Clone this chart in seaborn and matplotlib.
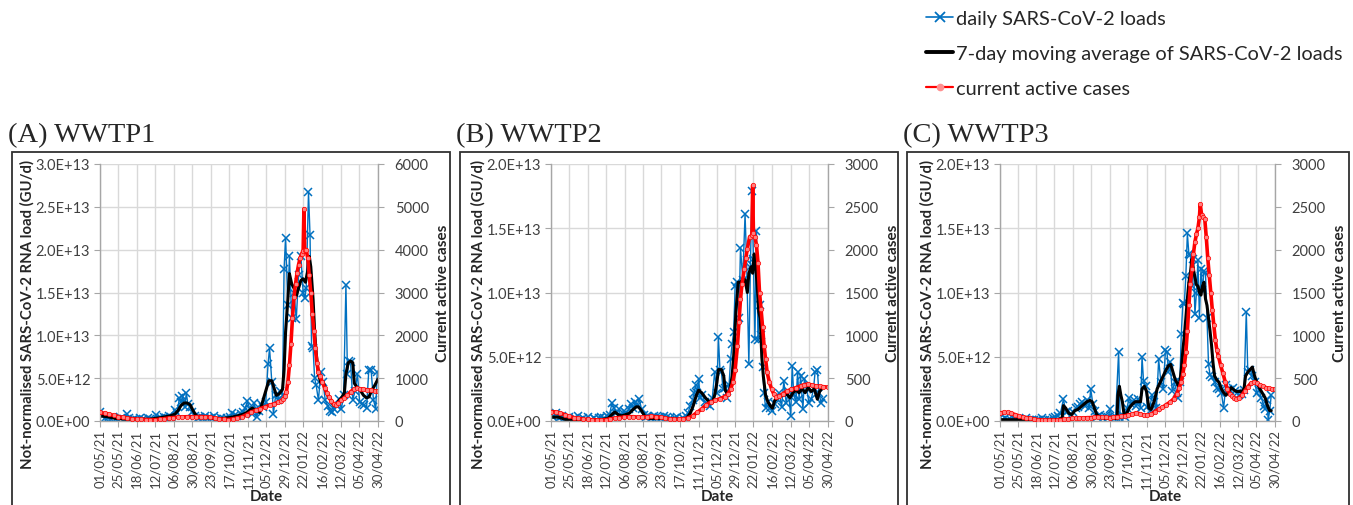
import matplotlib
matplotlib.use('Agg')
import matplotlib.pyplot as plt
from matplotlib.lines import Line2D
from matplotlib.patches import Rectangle
from matplotlib.ticker import FuncFormatter, MultipleLocator
import seaborn as sns
import pandas as pd

# day 0 = 01/05/21
START = pd.Timestamp('2021-05-01')
END = pd.Timestamp('2022-04-30')

tick_labels = ['01/05/21', '25/05/21', '18/06/21', '12/07/21', '06/08/21', '30/08/21',
               '23/09/21', '17/10/21', '11/11/21', '05/12/21', '29/12/21', '22/01/22',
               '16/02/22', '12/03/22', '05/04/22', '30/04/22']

series_labels = ['daily SARS-CoV-2 loads',
                 '7-day moving average of SARS-CoV-2 loads',
                 'current active cases']

# ---- WWTP1: (day, load in 1E12 GU/d) and (day, active cases)
a_daily = [(0, 1.0), (3, 0.6), (7, 0.4), (10, 0.3), (14, 0.2), (17, 0.5), (21, 0.2), (24, 0.1),
           (28, 0.3), (31, 0.2), (35, 0.8), (38, 0.3), (42, 0.1), (45, 0.2), (49, 0.1), (52, 0.4),
           (56, 0.2), (59, 0.1), (63, 0.3), (66, 0.2), (70, 0.1), (73, 0.7), (77, 0.3), (80, 0.4),
           (84, 0.5), (87, 0.3), (91, 0.6), (94, 0.4), (98, 1.3), (101, 0.9), (104, 2.7), (106, 2.2),
           (108, 2.9), (111, 1.6), (113, 3.3), (115, 2.0), (118, 1.6), (121, 1.0), (124, 0.6),
           (128, 0.4), (131, 0.5), (135, 0.3), (138, 0.6), (142, 0.4), (145, 0.3), (149, 0.6),
           (152, 0.2), (156, 0.1), (159, 0.3), (163, 0.2), (166, 0.4), (170, 0.5), (173, 0.9),
           (177, 0.7), (180, 0.6), (184, 0.8), (187, 1.0), (190, 1.5), (193, 2.3), (196, 1.4),
           (199, 0.8), (202, 2.1), (205, 0.5), (208, 1.2), (211, 2.0), (214, 1.6), (217, 2.2),
           (220, 6.6), (222, 8.5), (225, 4.5), (227, 0.8), (230, 3.0), (233, 2.5), (236, 3.5),
           (239, 3.0), (241, 17.7), (243, 21.4), (246, 13.5), (248, 19.3), (251, 12.0), (254, 15.0),
           (257, 11.9), (260, 17.0), (263, 19.3), (266, 15.0), (268, 14.3), (270, 15.5), (273, 26.7),
           (275, 21.7), (277, 8.8), (279, 8.5), (281, 5.0), (283, 4.2), (286, 2.4), (289, 5.7),
           (292, 4.5), (295, 2.4), (298, 1.8), (301, 1.2), (304, 1.0), (307, 1.4), (310, 1.8),
           (313, 2.6), (316, 1.4), (319, 3.0), (322, 15.9), (324, 5.5), (326, 7.0), (328, 6.9),
           (331, 2.5), (334, 3.5), (337, 5.5), (340, 2.2), (343, 2.0), (346, 1.9), (349, 1.5),
           (352, 6.0), (355, 5.9), (358, 2.5), (361, 1.4), (363, 5.7)]
a_avg = [(0, 0.6), (10, 0.5), (20, 0.3), (35, 0.2), (50, 0.2), (65, 0.2), (80, 0.4), (92, 0.6),
         (98, 0.8), (102, 1.2), (106, 1.8), (110, 2.1), (114, 2.1), (118, 1.9), (122, 1.2),
         (126, 0.6), (132, 0.4), (140, 0.4), (150, 0.3), (160, 0.3), (170, 0.4), (180, 0.6),
         (188, 0.8), (194, 1.1), (199, 1.5), (204, 1.3), (209, 1.0), (214, 2.6), (218, 3.8),
         (221, 4.7), (225, 4.7), (228, 3.8), (231, 3.0), (235, 3.2), (239, 3.7), (241, 6.0),
         (243, 10.4), (246, 14.2), (248, 17.2), (251, 16.0), (254, 15.5), (257, 14.6), (260, 15.5),
         (263, 16.4), (266, 16.6), (269, 16.2), (272, 17.5), (274, 19.2), (276, 18.0), (279, 14.2),
         (281, 10.5), (283, 8.0), (286, 5.5), (289, 4.5), (292, 4.6), (295, 3.8), (298, 3.0),
         (302, 2.4), (306, 1.8), (309, 1.8), (313, 2.4), (317, 2.8), (320, 3.3), (322, 5.5),
         (325, 6.8), (328, 7.0), (331, 6.8), (333, 4.4), (336, 4.0), (340, 3.7), (345, 3.0),
         (349, 2.7), (352, 2.8), (356, 3.6), (360, 4.2), (364, 4.9)]
a_cases = [(0, 200), (6, 180), (12, 160), (18, 130), (24, 105), (30, 85), (36, 70), (42, 55),
           (48, 45), (54, 38), (60, 35), (66, 30), (72, 30), (78, 40), (84, 55), (90, 70), (96, 80),
           (102, 90), (108, 95), (114, 100), (120, 100), (126, 100), (132, 105), (138, 100),
           (144, 90), (150, 70), (156, 50), (162, 40), (168, 35), (174, 50), (180, 70), (186, 100),
           (192, 150), (198, 210), (204, 250), (210, 290), (216, 330), (222, 370), (228, 400),
           (233, 440), (237, 470), (240, 520), (242, 580), (244, 680), (246, 900), (248, 1300),
           (250, 1800), (252, 2400), (254, 2900), (256, 3200), (258, 3450), (260, 3650),
           (262, 3800), (264, 3900), (266, 3980), (267, 4950), (268, 4000), (270, 4000),
           (272, 3800), (274, 3400), (276, 3000), (278, 2500), (280, 2100), (282, 1700),
           (284, 1350), (286, 1150), (288, 1050), (291, 920), (294, 780), (297, 660), (300, 560),
           (303, 470), (306, 400), (309, 380), (312, 420), (316, 480), (320, 540), (324, 600),
           (328, 680), (332, 740), (336, 760), (340, 750), (345, 740), (350, 730), (355, 720),
           (360, 700), (364, 690)]

# ---- WWTP2
b_daily = [(0, 0.5), (3, 0.3), (7, 0.6), (10, 0.2), (14, 0.4), (17, 0.1), (21, 0.2), (24, 0.3),
           (28, 0.1), (31, 0.2), (35, 0.4), (38, 0.1), (42, 0.2), (45, 0.1), (49, 0.3), (52, 0.1),
           (56, 0.2), (59, 0.1), (63, 0.2), (66, 0.3), (70, 0.2), (73, 0.4), (77, 0.5), (80, 1.4),
           (83, 1.0), (86, 0.6), (89, 0.9), (92, 0.4), (96, 0.8), (99, 0.6), (102, 0.9), (105, 1.3),
           (108, 1.0), (111, 1.5), (113, 1.2), (116, 1.7), (119, 0.9), (122, 0.5), (125, 0.3),
           (128, 0.4), (132, 0.2), (135, 0.4), (138, 0.3), (142, 0.3), (145, 0.2), (149, 0.4),
           (152, 0.3), (156, 0.2), (159, 0.1), (163, 0.2), (166, 0.3), (170, 0.1), (173, 0.2),
           (177, 0.4), (180, 0.6), (183, 1.2), (186, 1.6), (188, 2.2), (190, 2.8), (192, 2.2),
           (194, 3.3), (196, 1.8), (199, 2.0), (202, 1.5), (205, 1.3), (209, 1.2), (212, 1.8),
           (215, 3.8), (218, 2.2), (220, 6.5), (222, 4.0), (224, 3.8), (226, 2.5), (228, 2.6),
           (231, 1.8), (234, 2.8), (236, 4.8), (238, 6.0), (240, 6.9), (242, 10.5), (244, 10.8),
           (247, 8.0), (249, 13.5), (252, 11.0), (255, 16.1), (257, 12.5), (260, 4.4), (262, 12.0),
           (264, 17.9), (266, 12.6), (268, 6.4), (270, 14.8), (272, 6.3), (274, 9.0), (276, 6.7),
           (278, 4.2), (280, 2.2), (282, 1.0), (285, 1.5), (288, 1.0), (291, 0.8), (294, 1.3),
           (297, 1.7), (300, 2.2), (303, 1.1), (306, 3.1), (309, 1.4), (312, 2.3), (315, 0.4),
           (317, 4.3), (319, 2.0), (322, 1.5), (324, 3.8), (326, 1.7), (328, 3.5), (331, 0.9),
           (333, 3.3), (336, 2.5), (339, 1.4), (342, 1.7), (345, 2.5), (347, 3.8), (350, 4.0),
           (352, 2.2), (355, 1.4), (357, 1.7)]
b_avg = [(0, 0.3), (10, 0.3), (20, 0.1), (35, 0.1), (50, 0.1), (65, 0.1), (75, 0.2), (80, 0.5),
         (84, 0.7), (88, 0.5), (93, 0.4), (98, 0.5), (103, 0.6), (108, 0.9), (112, 1.1), (115, 1.1),
         (119, 0.8), (123, 0.4), (128, 0.2), (140, 0.2), (155, 0.2), (170, 0.1), (178, 0.2),
         (183, 0.6), (187, 1.2), (191, 2.0), (194, 2.4), (198, 2.2), (203, 1.8), (208, 1.5),
         (212, 1.4), (215, 2.0), (218, 3.0), (220, 4.0), (224, 4.0), (227, 3.5), (229, 2.4),
         (232, 2.1), (235, 2.4), (238, 3.5), (240, 5.0), (243, 8.5), (246, 10.8), (249, 10.8),
         (252, 11.0), (255, 11.0), (258, 10.0), (260, 11.5), (263, 12.0), (265, 11.5), (267, 13.0),
         (269, 12.0), (271, 10.5), (273, 8.5), (275, 8.0), (277, 5.0), (279, 3.5), (282, 2.0),
         (285, 1.5), (288, 1.2), (291, 1.0), (294, 1.6), (298, 1.8), (302, 2.0), (306, 2.0),
         (310, 2.1), (314, 1.8), (318, 2.2), (322, 2.4), (326, 2.2), (330, 2.5), (334, 2.2),
         (338, 2.6), (342, 2.3), (346, 2.5), (350, 1.7), (353, 2.3), (357, 2.6)]
b_cases = [(0, 110), (6, 105), (12, 95), (18, 75), (24, 55), (30, 40), (36, 30), (42, 22), (48, 18),
           (54, 15), (60, 12), (66, 12), (72, 15), (78, 25), (84, 35), (90, 40), (96, 45), (102, 50),
           (108, 50), (114, 45), (120, 45), (126, 50), (132, 55), (138, 50), (144, 45), (150, 35),
           (156, 25), (162, 20), (168, 20), (174, 25), (180, 35), (186, 60), (192, 100), (198, 140),
           (204, 190), (210, 220), (216, 240), (222, 260), (228, 285), (232, 310), (236, 370),
           (239, 450), (242, 600), (245, 880), (247, 1150), (249, 1420), (251, 1600), (254, 1770),
           (256, 1900), (258, 2010), (261, 2150), (264, 2170), (265, 2750), (266, 2200),
           (268, 2150), (270, 2050), (272, 1850), (274, 1500), (276, 1310), (278, 1100),
           (280, 880), (282, 720), (284, 570), (287, 450), (290, 370), (293, 310), (296, 280),
           (300, 290), (305, 320), (310, 350), (316, 370), (322, 390), (328, 410), (333, 425),
           (338, 430), (343, 420), (348, 410), (353, 405), (358, 400), (364, 395)]

# ---- WWTP3
c_daily = [(0, 0.2), (3, 0.1), (7, 0.2), (10, 0.1), (14, 0.1), (17, 0.2), (21, 0.1), (24, 0.05),
           (28, 0.1), (31, 0.1), (35, 0.2), (38, 0.1), (42, 0.1), (45, 0.05), (49, 0.1), (52, 0.1),
           (56, 0.2), (59, 0.1), (63, 0.1), (66, 0.1), (70, 0.2), (73, 0.3), (77, 0.4), (80, 0.6),
           (84, 1.7), (87, 0.7), (90, 0.8), (94, 0.5), (97, 0.7), (100, 1.0), (103, 1.1), (106, 1.3),
           (109, 1.5), (112, 1.2), (115, 1.6), (118, 1.0), (120, 2.5), (123, 1.3), (126, 0.8),
           (129, 0.3), (132, 0.5), (136, 0.2), (139, 0.4), (143, 0.3), (146, 0.9), (149, 0.2),
           (153, 0.3), (157, 5.4), (159, 0.2), (162, 0.5), (165, 0.3), (168, 1.0), (171, 1.8),
           (174, 1.3), (177, 1.6), (180, 1.2), (183, 1.7), (186, 1.0), (188, 5.0), (190, 3.1),
           (193, 2.7), (195, 1.1), (198, 0.8), (201, 2.0), (204, 1.5), (207, 1.0), (210, 4.8),
           (213, 3.0), (216, 2.5), (219, 5.5), (221, 5.4), (223, 3.8), (225, 4.6), (228, 2.3),
           (231, 3.0), (234, 2.2), (236, 1.8), (238, 3.0), (240, 6.8), (242, 9.2), (244, 9.1),
           (246, 11.3), (248, 14.6), (250, 13.0), (252, 12.9), (254, 10.5), (256, 12.6), (258, 8.3),
           (260, 10.0), (262, 12.5), (264, 8.0), (266, 11.8), (268, 10.2), (270, 11.7), (272, 11.5),
           (274, 8.0), (276, 4.4), (278, 3.6), (281, 3.4), (284, 3.0), (287, 2.6), (290, 2.5),
           (293, 2.2), (296, 1.0), (299, 2.8), (302, 2.5), (305, 2.4), (308, 2.6), (311, 2.3),
           (314, 2.2), (317, 2.0), (320, 2.1), (323, 2.4), (326, 8.5), (328, 3.8), (331, 4.0),
           (334, 3.5), (337, 3.0), (340, 2.2), (343, 2.4), (346, 1.8), (349, 1.2), (351, 0.9),
           (353, 1.6), (355, 0.1), (357, 0.8), (359, 2.0)]
c_avg = [(0, 0.1), (15, 0.1), (30, 0.1), (45, 0.05), (60, 0.05), (75, 0.1), (82, 0.2), (84, 1.2),
         (87, 1.0), (91, 0.6), (95, 0.5), (99, 0.8), (103, 0.9), (107, 1.1), (111, 1.3), (115, 1.5),
         (119, 1.6), (122, 1.5), (125, 1.0), (128, 0.5), (132, 0.3), (140, 0.2), (148, 0.2),
         (155, 0.2), (156, 2.0), (158, 2.7), (160, 2.0), (162, 1.5), (164, 0.6), (167, 0.5),
         (171, 1.0), (175, 1.3), (179, 1.5), (183, 1.5), (186, 1.5), (188, 2.5), (191, 2.7),
         (194, 2.3), (197, 1.0), (200, 0.9), (204, 1.5), (208, 2.5), (212, 3.0), (216, 3.5),
         (220, 4.0), (223, 4.3), (226, 4.4), (229, 3.8), (232, 3.2), (235, 2.9), (237, 2.5),
         (240, 4.0), (242, 5.5), (244, 6.6), (246, 8.0), (248, 9.5), (250, 10.8), (252, 11.5),
         (254, 12.6), (256, 11.8), (258, 11.2), (260, 10.6), (262, 10.5), (264, 10.0), (266, 9.8),
         (268, 10.5), (270, 10.8), (272, 9.5), (274, 9.0), (276, 8.0), (278, 7.0), (280, 5.9),
         (282, 4.5), (284, 3.5), (287, 3.2), (290, 3.0), (293, 2.5), (296, 2.2), (299, 2.0),
         (302, 2.2), (306, 2.6), (310, 2.4), (313, 2.3), (317, 2.3), (320, 2.3), (323, 2.5),
         (325, 3.5), (328, 3.8), (331, 4.0), (334, 4.2), (337, 3.5), (340, 3.0), (344, 2.5),
         (347, 2.2), (351, 1.8), (354, 1.2), (357, 0.8), (359, 0.8)]
c_cases = [(0, 95), (5, 100), (10, 100), (15, 90), (20, 75), (25, 60), (30, 48), (35, 38), (40, 30),
           (45, 22), (50, 16), (55, 12), (60, 10), (65, 8), (70, 8), (75, 10), (80, 15), (85, 20),
           (90, 25), (95, 30), (100, 32), (105, 35), (110, 35), (115, 38), (120, 40), (125, 42),
           (130, 45), (135, 45), (140, 42), (145, 40), (150, 45), (155, 50), (160, 55), (165, 60),
           (170, 70), (175, 80), (180, 95), (185, 85), (190, 70), (195, 65), (200, 80), (205, 110),
           (210, 140), (215, 160), (220, 190), (225, 220), (230, 260), (234, 320), (237, 380),
           (240, 460), (242, 550), (244, 650), (246, 800), (248, 1050), (250, 1350), (252, 1600),
           (254, 1770), (256, 1950), (258, 2090), (260, 2180), (262, 2250), (264, 2380),
           (265, 2530), (267, 2400), (269, 2380), (271, 2360), (273, 2150), (275, 1900),
           (277, 1700), (279, 1500), (281, 1300), (283, 1120), (285, 950), (287, 830), (289, 760),
           (292, 650), (295, 560), (298, 460), (301, 370), (304, 320), (307, 290), (310, 265),
           (313, 260), (316, 270), (320, 300), (324, 350), (328, 400), (332, 440), (336, 455),
           (340, 440), (344, 420), (348, 405), (352, 390), (356, 380), (360, 370), (364, 370)]

BLUE = '#0070C0'
RED = '#FF0000'
GRID = '#D9D9D9'
AXIS = '#A6A6A6'
TXT = '#404040'

sns.set_style('white')
plt.rcParams['font.family'] = ['Lato', 'DejaVu Sans']

W, H = 1353, 506
fig = plt.figure(figsize=(W / 100, H / 100), dpi=100)


def to_frame(pairs, scale=1.0):
    df = pd.DataFrame(pairs, columns=['day', 'value'])
    df['date'] = START + pd.to_timedelta(df['day'], unit='D')
    df['value'] = df['value'] * scale
    return df


def sci(v, pos):
    return f'{v:.1E}'


def draw_panel(left, width, frame, title, daily, avg, cases, load_max, case_max, case_step):
    ax = fig.add_axes([left / W, 1 - 422 / H, width / W, 257 / H])
    ax2 = ax.twinx()

    sns.lineplot(data=to_frame(daily, 1e12), x='date', y='value', ax=ax, color=BLUE, lw=1,
                 marker='x', ms=5.5, mec=BLUE, mew=1.1, legend=False)
    sns.lineplot(data=to_frame(avg, 1e12), x='date', y='value', ax=ax, color='black', lw=2.2,
                 legend=False)
    sns.lineplot(data=to_frame(cases), x='date', y='value', ax=ax2, color=RED, lw=2.6,
                 marker='o', ms=3.2, mfc='#FF8080', mec=RED, mew=0.5, legend=False)

    ax.set_xlim(START, END)
    ax.set_ylim(0, load_max)
    ax2.set_ylim(0, case_max)
    ax.yaxis.set_major_locator(MultipleLocator(5e12))
    ax.yaxis.set_major_formatter(FuncFormatter(sci))
    ax2.yaxis.set_major_locator(MultipleLocator(case_step))

    ticks = pd.to_datetime(tick_labels, format='%d/%m/%y')
    ax.set_xticks(ticks)
    ax.set_xticklabels(tick_labels, rotation=90)

    ax.set_axisbelow(True)
    ax.grid(True, color=GRID, lw=1)

    for a in (ax, ax2):
        for side in ('top', 'right', 'left', 'bottom'):
            a.spines[side].set_visible(False)
    ax.spines['left'].set_visible(True)
    ax.spines['bottom'].set_visible(True)
    ax2.spines['right'].set_visible(True)
    for s in (ax.spines['left'], ax.spines['bottom'], ax2.spines['right']):
        s.set_color(AXIS)
        s.set_linewidth(1)

    ax.tick_params(axis='y', direction='out', length=4, color=AXIS, labelsize=10.5,
                   labelcolor=TXT, pad=3, left=True)
    ax.tick_params(axis='x', direction='out', length=4, color=AXIS, labelsize=9.5,
                   labelcolor=TXT, pad=2, bottom=True)
    ax2.tick_params(axis='y', direction='out', length=4, color=AXIS, labelsize=10.5,
                    labelcolor=TXT, pad=8, right=True)

    ax.set_xlabel('Date', fontweight='bold', fontsize=11)
    ax.xaxis.set_label_coords(0.6, -0.265)
    ax.set_ylabel('Not-normalised SARS-CoV-2 RNA load (GU/d)', fontweight='bold', fontsize=10.7)
    ax.yaxis.set_label_coords(-0.237, 0.42)
    ax2.set_ylabel('Current active cases', fontweight='bold', fontsize=11)
    ax2.yaxis.set_label_coords(1.21, 0.5)

    fx0, fx1 = frame
    fig.add_artist(Rectangle((fx0 / W, -0.05), (fx1 - fx0) / W, 1 - 153 / H + 0.05,
                             transform=fig.transFigure, fill=False, ec='#303030', lw=1.3))
    fig.text((fx0 - 4) / W, 1 - 142 / H, title, family='Liberation Serif', fontsize=20.5,
             va='baseline', ha='left')


draw_panel(100, 278, (12, 450), '(A) WWTP1', a_daily, a_avg, a_cases, 3e13, 6000, 1000)
draw_panel(551, 277, (460, 898), '(B) WWTP2', b_daily, b_avg, b_cases, 2e13, 3000, 500)
draw_panel(1000, 275, (907, 1349), '(C) WWTP3', c_daily, c_avg, c_cases, 2e13, 3000, 500)

handles = [
    Line2D([], [], color=BLUE, lw=1.2, marker='x', ms=7, mec=BLUE, mew=1.3),
    Line2D([], [], color='black', lw=2.8),
    Line2D([], [], color=RED, lw=1.6, marker='o', ms=4.5, mfc='#FF9090', mec='#FF9090'),
]
fig.legend(handles, series_labels, loc='upper left', bbox_to_anchor=(926 / W, 1 - 11 / H),
           frameon=False, fontsize=14.4, handlelength=1.35, handletextpad=0.15,
           labelspacing=0.9, borderaxespad=0, borderpad=0)

fig.savefig('out.png', dpi=100)
